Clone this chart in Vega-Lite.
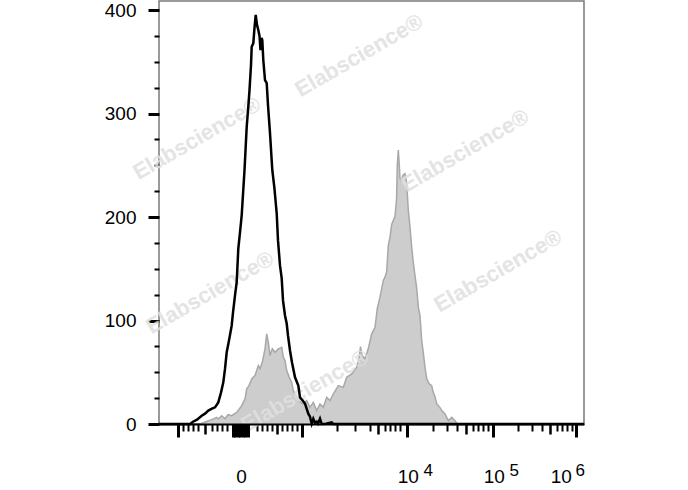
{
  "$schema": "https://vega.github.io/schema/vega-lite/v6.json",
  "width": 425,
  "height": 423,
  "autosize": "none",
  "padding": {"left": 159, "top": 1, "right": 104, "bottom": 66},
  "background": "white",
  "config": {"view": {"stroke": "#7a7a7a", "strokeWidth": 1.5}, "font": "Liberation Sans"},
  "datasets": {
    "stained": [
      {"channel": 82, "count": 0}, {"channel": 94, "count": 2.2}, {"channel": 105.4, "count": 4.2}, {"channel": 115.4, "count": 6.4},
      {"channel": 118.6, "count": 4.8}, {"channel": 125.4, "count": 8}, {"channel": 132, "count": 5.1}, {"channel": 138, "count": 9},
      {"channel": 145.4, "count": 8}, {"channel": 155.4, "count": 11.2}, {"channel": 165.4, "count": 17.7}, {"channel": 172, "count": 24.2},
      {"channel": 175.4, "count": 33.9}, {"channel": 180, "count": 37.1}, {"channel": 185.4, "count": 43.6}, {"channel": 192, "count": 46.8},
      {"channel": 198.6, "count": 56.4}, {"channel": 202, "count": 53.5}, {"channel": 206.6, "count": 59.6}, {"channel": 212, "count": 72.6},
      {"channel": 215.4, "count": 87.1}, {"channel": 218.6, "count": 79}, {"channel": 222, "count": 66.1}, {"channel": 226.6, "count": 72.6},
      {"channel": 232, "count": 69.3}, {"channel": 238.6, "count": 72.6}, {"channel": 245.4, "count": 74.1}, {"channel": 248.6, "count": 64.5},
      {"channel": 252, "count": 61.3}, {"channel": 255.4, "count": 51.6}, {"channel": 260, "count": 45.8}, {"channel": 265.4, "count": 40},
      {"channel": 268.6, "count": 32.3}, {"channel": 275.4, "count": 25.7}, {"channel": 282, "count": 21.6}, {"channel": 288.6, "count": 19.4},
      {"channel": 295.4, "count": 22.6}, {"channel": 302, "count": 16.1}, {"channel": 308.6, "count": 20.9}, {"channel": 315.4, "count": 12.9},
      {"channel": 322, "count": 19.4}, {"channel": 328.6, "count": 16.1}, {"channel": 335.4, "count": 25.7}, {"channel": 342, "count": 22.6},
      {"channel": 348.6, "count": 29}, {"channel": 358.6, "count": 37.1}, {"channel": 368.6, "count": 35.4}, {"channel": 375.4, "count": 45.1},
      {"channel": 385.4, "count": 48.4}, {"channel": 395.4, "count": 54.8}, {"channel": 400, "count": 63.2}, {"channel": 403, "count": 74.8},
      {"channel": 406, "count": 66.1}, {"channel": 412, "count": 63.2}, {"channel": 418.6, "count": 72.9}, {"channel": 425.4, "count": 87.1},
      {"channel": 432, "count": 93.5}, {"channel": 436.6, "count": 111.6}, {"channel": 442, "count": 122.5}, {"channel": 448.6, "count": 138.7},
      {"channel": 452, "count": 141.9}, {"channel": 455.4, "count": 147.4}, {"channel": 458.6, "count": 172.6}, {"channel": 462, "count": 180.6},
      {"channel": 465.4, "count": 192.9}, {"channel": 472, "count": 200.7}, {"channel": 475, "count": 216.2}, {"channel": 476.6, "count": 250},
      {"channel": 478.6, "count": 264.6}, {"channel": 480.6, "count": 250}, {"channel": 482, "count": 237.5}, {"channel": 485, "count": 235.5},
      {"channel": 488, "count": 240.4}, {"channel": 492, "count": 242}, {"channel": 495.4, "count": 232.6}, {"channel": 498.6, "count": 206.5},
      {"channel": 502, "count": 190.3}, {"channel": 505.4, "count": 171}, {"channel": 508.6, "count": 156.1}, {"channel": 512, "count": 143.5},
      {"channel": 515.4, "count": 131}, {"channel": 518.6, "count": 112.9}, {"channel": 522, "count": 104.8}, {"channel": 525.4, "count": 80.6},
      {"channel": 528.6, "count": 69}, {"channel": 532, "count": 54.8}, {"channel": 535.4, "count": 43.9}, {"channel": 540, "count": 39},
      {"channel": 545.4, "count": 37.1}, {"channel": 548, "count": 31.3}, {"channel": 552, "count": 26.4}, {"channel": 555.4, "count": 19.7},
      {"channel": 562, "count": 15.8}, {"channel": 565.4, "count": 12.9}, {"channel": 572, "count": 9.7}, {"channel": 575.4, "count": 6.4},
      {"channel": 578.6, "count": 3.2}, {"channel": 585.4, "count": 6.4}, {"channel": 592, "count": 3.2}, {"channel": 595.4, "count": 0.6},
      {"channel": 605.4, "count": 0}, {"channel": 612, "count": 0}
    ],
    "control": [
      {"channel": 0, "count": 0}, {"channel": 62, "count": 0}, {"channel": 68, "count": 2.2}, {"channel": 76, "count": 4.2},
      {"channel": 85.4, "count": 8}, {"channel": 92, "count": 10}, {"channel": 98.6, "count": 12.9}, {"channel": 106, "count": 14.8},
      {"channel": 112, "count": 16.1}, {"channel": 118.6, "count": 20.9}, {"channel": 124, "count": 30.3}, {"channel": 128.6, "count": 40.3},
      {"channel": 132, "count": 53.2}, {"channel": 135.4, "count": 69.3}, {"channel": 140, "count": 80.6}, {"channel": 145.4, "count": 95.2},
      {"channel": 148, "count": 107.7}, {"channel": 152, "count": 124.2}, {"channel": 155.4, "count": 137.1}, {"channel": 158.6, "count": 169.4},
      {"channel": 162, "count": 185.2}, {"channel": 165.4, "count": 201.6}, {"channel": 171, "count": 245.2}, {"channel": 175.4, "count": 287.1},
      {"channel": 178.6, "count": 306.5}, {"channel": 181, "count": 322.6}, {"channel": 184, "count": 346.8}, {"channel": 185.4, "count": 364.5},
      {"channel": 188.6, "count": 367.8}, {"channel": 191, "count": 382.7}, {"channel": 193.4, "count": 395.2}, {"channel": 196, "count": 385.6},
      {"channel": 198.6, "count": 380.7}, {"channel": 201, "count": 374.9}, {"channel": 203, "count": 361.3}, {"channel": 205, "count": 373},
      {"channel": 206.6, "count": 371.1}, {"channel": 208.6, "count": 351.7}, {"channel": 212, "count": 332.3}, {"channel": 215.4, "count": 329.4},
      {"channel": 218, "count": 308.1}, {"channel": 222, "count": 281}, {"channel": 226.6, "count": 245.2}, {"channel": 230.6, "count": 229},
      {"channel": 235.4, "count": 203.6}, {"channel": 238, "count": 177.4}, {"channel": 242, "count": 153.2}, {"channel": 245.4, "count": 140.7},
      {"channel": 248, "count": 119.4}, {"channel": 252, "count": 104.9}, {"channel": 255.4, "count": 97.1}, {"channel": 258, "count": 85.5},
      {"channel": 262, "count": 71}, {"channel": 266, "count": 59.4}, {"channel": 272, "count": 45.1}, {"channel": 278.6, "count": 37.1},
      {"channel": 282, "count": 25.7}, {"channel": 286, "count": 23.5}, {"channel": 292, "count": 19.7}, {"channel": 298.6, "count": 10},
      {"channel": 302, "count": 7.1}, {"channel": 305.4, "count": 0.3}, {"channel": 308.6, "count": 5.1}, {"channel": 312, "count": 1.3},
      {"channel": 315.4, "count": 2.2}, {"channel": 318, "count": 0.3}, {"channel": 322, "count": 5.1}, {"channel": 325.4, "count": 0},
      {"channel": 334, "count": 0.3}, {"channel": 345.4, "count": 1.5}, {"channel": 348.6, "count": 0}, {"channel": 850, "count": 0}
    ],
    "watermark": [
      {"channel": 400, "count": 356, "label": "Elabscience®"},
      {"channel": 76, "count": 276, "label": "Elabscience®"},
      {"channel": 612, "count": 264, "label": "Elabscience®"},
      {"channel": 102, "count": 127, "label": "Elabscience®"},
      {"channel": 678, "count": 148, "label": "Elabscience®"},
      {"channel": 292, "count": 32, "label": "Elabscience®"}
    ]
  },
  "resolve": {"axis": {"x": "independent", "y": "independent"}},
  "layer": [
    {
      "data": {"name": "stained"},
      "mark": {"type": "area", "color": "#cdcdcd", "interpolate": "linear"},
      "encoding": {
        "x": {
          "field": "channel", "type": "quantitative",
          "scale": {"domain": [0, 850], "nice": false, "zero": false},
          "axis": {
            "orient": "bottom", "title": null, "grid": false, "zindex": 1,
            "values": [38.6, 147, 152, 157, 162, 167, 172, 177, 285.4, 495.4, 667.4, 833.4],
            "domainColor": "black", "domainWidth": 2,
            "tickColor": "black", "tickSize": 13, "tickWidth": 3,
            "labelExpr": "datum.value === 162 ? '0' : (datum.value === 495.4 || datum.value === 667.4 || datum.value === 833.4) ? '10' : ''",
            "labelFontSize": 19, "labelColor": "black", "labelPadding": 30,
            "labelOffset": {"condition": {"test": "datum.value === 833.4", "value": -15}, "value": 1},
            "labelOverlap": false, "labelFlush": false, "labelBound": false
          }
        },
        "y": {
          "field": "count", "type": "quantitative",
          "scale": {"domain": [0, 408.7], "nice": false},
          "axis": {
            "orient": "left", "title": null, "grid": false, "domain": false,
            "values": [0, 100, 200, 300, 400],
            "tickColor": "black", "tickSize": 11, "tickWidth": 3,
            "labelFontSize": 19, "labelColor": "black", "labelPadding": 12, "labelOverlap": false
          }
        }
      }
    },
    {
      "data": {"name": "stained"},
      "mark": {"type": "line", "color": "#a8a8a8", "strokeWidth": 1.5},
      "encoding": {
        "x": {
          "field": "channel", "type": "quantitative",
          "scale": {"domain": [0, 850], "nice": false, "zero": false},
          "axis": {
            "orient": "bottom", "title": null, "grid": false, "domain": false, "labels": false,
            "values": [92, 235.4, 438.6, 614, 782],
            "tickColor": "black", "tickSize": 10, "tickWidth": 2.5
          }
        },
        "y": {
          "field": "count", "type": "quantitative",
          "scale": {"domain": [0, 408.7], "nice": false},
          "axis": {
            "orient": "left", "title": null, "grid": false, "domain": false, "labels": false,
            "values": [25, 50, 75, 125, 150, 175, 225, 250, 275, 325, 350, 375],
            "tickColor": "black", "tickSize": 5, "tickWidth": 2
          }
        }
      }
    },
    {
      "data": {"name": "watermark"},
      "mark": {"type": "text", "angle": -30, "fontSize": 22, "fontWeight": "bold", "color": "#e0e0e0", "opacity": 0.85, "align": "center", "baseline": "middle"},
      "encoding": {
        "x": {
          "field": "channel", "type": "quantitative",
          "scale": {"domain": [0, 850], "nice": false, "zero": false},
          "axis": {
            "orient": "bottom", "title": null, "grid": false, "domain": false, "labels": false,
            "values": [48.6, 58.6, 68.6, 78.6, 105.4, 115.4, 125.4, 135.4, 195.4, 205.4, 215.4, 225.4, 245.4, 255.4, 265.4, 275.4, 355.4, 392, 422, 452, 462, 472, 482, 548, 575.4, 595.4, 628.6, 638.6, 648.6, 658.6, 717.4, 745.4, 765.4, 795.4, 805.4, 815.4, 825.4],
            "tickColor": "black", "tickSize": 7, "tickWidth": 2
          }
        },
        "y": {"field": "count", "type": "quantitative", "scale": {"domain": [0, 408.7], "nice": false}, "axis": null},
        "text": {"field": "label"}
      }
    },
    {
      "data": {"name": "control"},
      "mark": {"type": "line", "color": "black", "strokeWidth": 2.5},
      "encoding": {
        "x": {
          "field": "channel", "type": "quantitative",
          "scale": {"domain": [0, 850], "nice": false, "zero": false},
          "axis": {
            "orient": "bottom", "title": null, "grid": false, "ticks": false, "domain": false,
            "values": [495.4, 667.4, 833.4],
            "labelExpr": "datum.value === 495.4 ? '4' : datum.value === 667.4 ? '5' : '6'",
            "labelFontSize": 17, "labelColor": "black", "labelPadding": 38,
            "labelOffset": {"condition": {"test": "datum.value === 833.4", "value": 4}, "value": 21},
            "labelOverlap": false, "labelFlush": false, "labelBound": false
          }
        },
        "y": {"field": "count", "type": "quantitative", "scale": {"domain": [0, 408.7], "nice": false}, "axis": null}
      }
    }
  ]
}
